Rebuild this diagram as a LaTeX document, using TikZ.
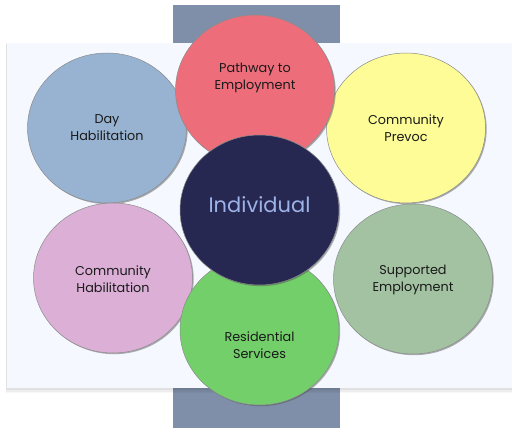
\documentclass[tikz,border=0pt]{standalone}
\usepackage{fontspec}
\setmainfont{Poppins}
\usetikzlibrary{shadows,shapes.geometric}
\definecolor{barcol}{HTML}{7F8FA9}
\definecolor{panelcol}{HTML}{F5F8FE}
\definecolor{daycol}{HTML}{97B3D1}
\definecolor{pathcol}{HTML}{ED6D7A}
\definecolor{prevcol}{HTML}{FDFC96}
\definecolor{indcol}{HTML}{262852}
\definecolor{chabcol}{HTML}{DBAFD6}
\definecolor{supcol}{HTML}{A2C2A2}
\definecolor{rescol}{HTML}{73CF6A}
\definecolor{indtext}{HTML}{9DB2E6}
\definecolor{labcol}{HTML}{1A1A1A}
\tikzset{
  bubble/.style={ellipse, minimum width=159pt, minimum height=150pt, inner sep=0pt,
    draw=black!45, line width=0.5pt,
    drop shadow={shadow xshift=1.2pt, shadow yshift=-1.2pt, opacity=0.45, fill=black!70}},
  lab/.style={text=labcol, align=center, font=\fontsize{12.8}{17}\selectfont}
}
\begin{document}
\begin{tikzpicture}[x=1pt, y=-1pt]
  \useasboundingbox (0,0) rectangle (512,428);
  % vertical band behind the panel
  \fill[barcol] (173,5) rectangle (340,428);
  % light panel with a soft shadow
  \foreach \d/\o in {5/0.03,3.5/0.04,2/0.05}{
    \fill[black, opacity=\o] (7-\d*0.3,43+\d*0.2) rectangle (512,388+\d);
  }
  \fill[panelcol] (7,43) rectangle (512,388);
  % outer ring of services
  \node[bubble, fill=daycol]  (day)  at (107,128) {};
  \node[bubble, fill=prevcol] (prev) at (406,128) {};
  \node[bubble, fill=chabcol] (chab) at (113,278) {};
  \node[bubble, fill=supcol]  (sup)  at (413,279) {};
  \node[bubble, fill=pathcol] (path) at (255,90) {};
  \node[bubble, fill=rescol]  (res)  at (259.5,330) {};
  % centre
  \node[bubble, fill=indcol]  (ind)  at (259.5,210) {};
  % labels
  \node[lab] at (day.center)  {Day\\Habilitation};
  \node[lab] at (prev.center) {Community\\Prevoc};
  \node[lab] at ([yshift=-1pt]chab.center) {Community\\Habilitation};
  \node[lab] at ([yshift=-1pt]sup.center)  {Supported\\Employment};
  \node[lab] at ([yshift=12pt]path.center) {Pathway to\\Employment};
  \node[lab] at ([yshift=-15pt]res.center)  {Residential\\Services};
  \node[text=indtext, font=\fontsize{21}{25}\selectfont] at ([yshift=5pt]ind.center) {Individual};
\end{tikzpicture}
\end{document}
